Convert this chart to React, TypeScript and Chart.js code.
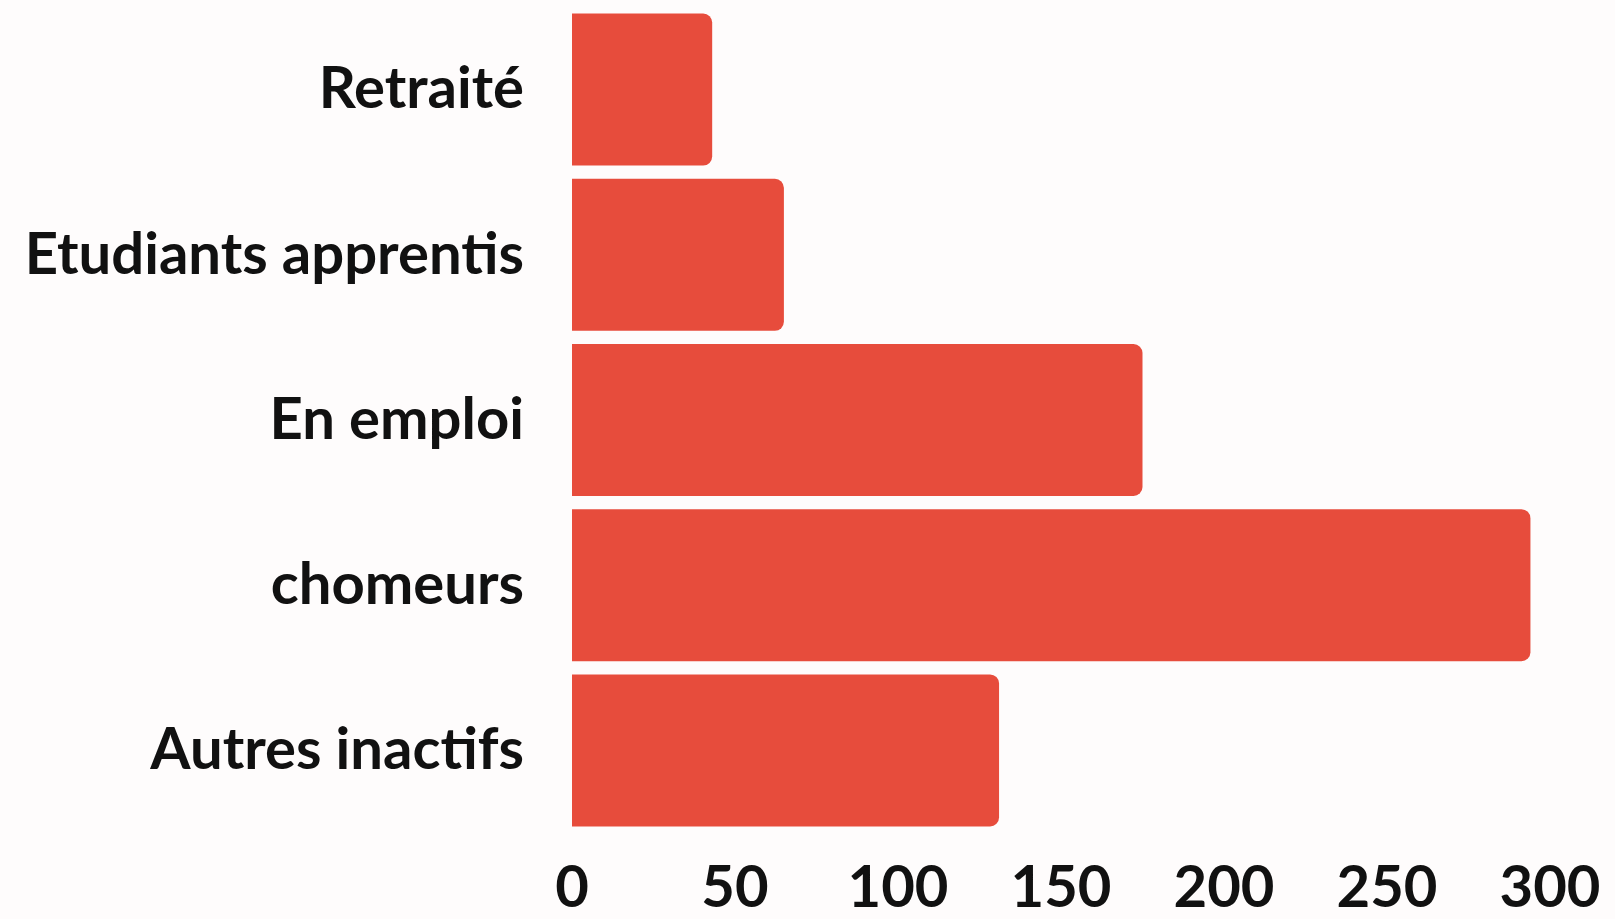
import React, { useEffect, useRef } from "react";
import { Chart, registerables } from "chart.js";

Chart.register(...registerables);

const categories = ["Retraité", "Etudiants apprentis", "En emploi", "chomeurs", "Autres inactifs"];
const values = [43, 65, 175, 294, 131];
const xTicks = [0, 50, 100, 150, 200, 250, 300];

export default function App() {
  const ref = useRef<HTMLCanvasElement | null>(null);
  useEffect(() => {
    if (!ref.current) return;
    const chart = new Chart(ref.current, {
      type: "bar",
      data: {
        labels: categories,
        datasets: [
          {
            data: values,
            backgroundColor: "#E74C3C",
            borderRadius: 9,
            borderSkipped: "start",
            categoryPercentage: 0.92,
            barPercentage: 1,
          },
        ],
      },
      options: {
        indexAxis: "y",
        animation: false,
        responsive: true,
        maintainAspectRatio: false,
        layout: { padding: { left: 0, right: 65, top: 7, bottom: 0 } },
        plugins: { legend: { display: false }, tooltip: { enabled: false } },
        scales: {
          x: {
            type: "linear",
            min: 0,
            max: 300,
            afterBuildTicks: (scale: any) => {
              scale.ticks = xTicks.map((v) => ({ value: v }));
            },
            afterFit: (scale: any) => {
              scale.height = 86;
              scale.paddingLeft = 0;
              scale.paddingRight = 0;
            },
            grid: { display: false, drawTicks: false, tickLength: 0 },
            border: { display: false },
            ticks: {
              autoSkip: false,
              maxRotation: 0,
              padding: 20,
              color: "#111",
              font: { family: "Lato", size: 58, weight: "bold" },
            },
          },
          y: {
            afterFit: (scale: any) => {
              scale.width = 572;
              scale.paddingTop = 0;
              scale.paddingBottom = 0;
            },
            grid: { display: false, drawTicks: false, tickLength: 0 },
            border: { display: false },
            ticks: {
              padding: 48,
              color: "#111",
              font: { family: "Lato", size: 58, weight: "bold" },
            },
          },
        },
      },
    });
    return () => chart.destroy();
  }, []);
  return (
    <div style={{ position: "fixed", left: 0, top: 0, width: 1615, height: 919, background: "#fefcfc" }}>
      <canvas ref={ref} />
    </div>
  );
}
